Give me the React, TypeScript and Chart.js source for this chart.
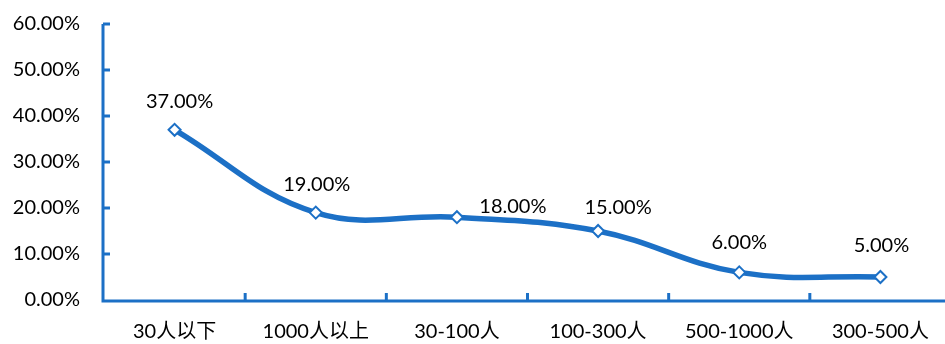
import React, { useEffect, useRef } from "react";
import { Chart, registerables } from "chart.js";

Chart.register(...registerables);

const categories = ["30人以下", "1000人以上", "30-100人", "100-300人", "500-1000人", "300-500人"];
const values = [37, 19, 18, 15, 6, 5];
const labelDx = [5, 1, 56, 20, 0, 1];
const labelDy = [-28, -28, -11, -23, -30, -31];

const BLUE = "#1c70c6";
const FONT = "Lato, 'Noto Sans CJK SC', sans-serif";

const axesPlugin = {
  id: "axesPlugin",
  afterDatasetsDraw(chart: any) {
    const { ctx, chartArea } = chart;
    const x = chart.scales.x;
    const y = chart.scales.y;
    ctx.save();
    ctx.strokeStyle = BLUE;
    ctx.lineWidth = 3;
    ctx.beginPath();
    ctx.moveTo(chartArea.left - 1, y.getPixelForValue(60));
    ctx.lineTo(chartArea.left - 1, chartArea.bottom + 1);
    ctx.lineTo(chart.width, chartArea.bottom + 1);
    ctx.stroke();
    for (let v = 10; v <= 60; v += 10) {
      const py = y.getPixelForValue(v);
      ctx.beginPath();
      ctx.moveTo(chartArea.left - 1, py);
      ctx.lineTo(chartArea.left + 6, py);
      ctx.stroke();
    }
    const n = categories.length;
    for (let i = 1; i < n; i++) {
      const px = (x.getPixelForValue(i - 1) + x.getPixelForValue(i)) / 2;
      ctx.beginPath();
      ctx.moveTo(px, chartArea.bottom + 1);
      ctx.lineTo(px, chartArea.bottom - 7);
      ctx.stroke();
    }
    ctx.restore();
  },
  afterDraw(chart: any) {
    const { ctx } = chart;
    const meta = chart.getDatasetMeta(0);
    ctx.save();
    ctx.fillStyle = "#000";
    ctx.font = `20px ${FONT}`;
    ctx.textAlign = "center";
    ctx.textBaseline = "middle";
    meta.data.forEach((pt: any, i: number) => {
      ctx.fillText(values[i].toFixed(2) + "%", pt.x + labelDx[i], pt.y + labelDy[i]);
    });
    ctx.restore();
  },
};

export default function App() {
  const ref = useRef<HTMLCanvasElement>(null);
  useEffect(() => {
    const chart = new Chart(ref.current!, {
      type: "line",
      data: {
        labels: categories,
        datasets: [
          {
            data: values,
            borderColor: BLUE,
            borderWidth: 5.5,
            tension: 0.4,
            pointStyle: "rectRot",
            pointRadius: 6,
            pointBackgroundColor: "#fff",
            pointBorderColor: BLUE,
            pointBorderWidth: 2,
          },
        ],
      },
      options: {
        animation: false,
        responsive: false,
        maintainAspectRatio: false,
        layout: { padding: { top: 24, right: 0, left: 0, bottom: 0 } },
        plugins: { legend: { display: false }, tooltip: { enabled: false } },
        scales: {
          x: {
            offset: true,
            grid: { display: false },
            border: { display: false },
            ticks: { color: "#000", font: { size: 20, family: FONT }, padding: 12, maxRotation: 0 },
            afterFit: (s: any) => { s.height = 44; },
          },
          y: {
            min: 0,
            max: 60,
            grid: { display: false },
            border: { display: false },
            ticks: {
              stepSize: 10,
              color: "#000",
              font: { size: 20, family: FONT },
              padding: 16,
              callback: (v: any) => Number(v).toFixed(2) + "%",
            },
            afterFit: (s: any) => { s.width = 104; s.paddingTop = 0; s.paddingBottom = 0; },
          },
        },
      },
      plugins: [axesPlugin],
    });
    return () => chart.destroy();
  }, []);
  return (
    <div style={{ position: "fixed", left: 0, top: 0, width: 945, height: 344, overflow: "hidden", background: "#fff" }}>
      <canvas ref={ref} width={959} height={344} />
    </div>
  );
}
